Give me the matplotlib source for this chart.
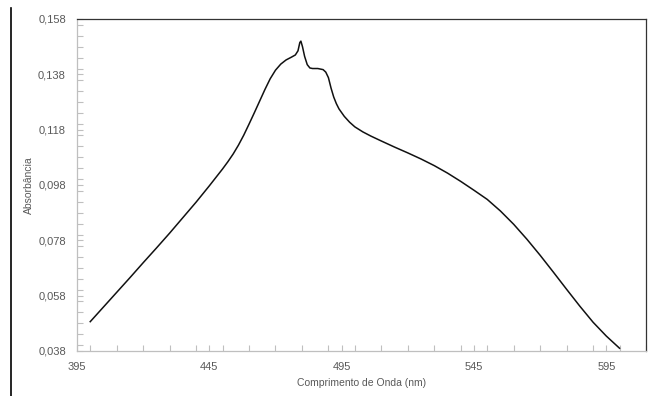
import matplotlib.pyplot as plt
from matplotlib.ticker import MultipleLocator, FuncFormatter
from matplotlib.lines import Line2D

plt.rcParams['font.family'] = ['Liberation Sans Narrow', 'Liberation Sans', 'DejaVu Sans']

# espectro de absorcao
comprimento = [400, 405, 410, 415, 420, 425, 430, 435, 440, 445, 450, 452, 454,
               456, 458, 460, 462, 464, 466, 468, 470, 472, 474, 476, 477.5,
               478.5, 479.2, 479.6, 480.2, 481, 482, 483, 484, 486, 488, 489,
               490, 491, 492, 493, 494, 496, 498, 500, 503, 506, 510, 515, 520,
               525, 530, 535, 540, 545, 550, 555, 560, 565, 570, 575, 580, 585,
               590, 595, 600]
absorbancia = [0.0486, 0.0539, 0.0592, 0.0645, 0.0699, 0.0752, 0.0806, 0.0862,
               0.0918, 0.0977, 0.1038, 0.1064, 0.1092, 0.1124, 0.1160, 0.1200,
               0.1241, 0.1283, 0.1325, 0.1364, 0.1395, 0.1417, 0.1432, 0.1442,
               0.1450, 0.1465, 0.1495, 0.1500, 0.1480, 0.1445, 0.1415, 0.1403,
               0.1401, 0.1401, 0.1397, 0.1388, 0.1368, 0.1330, 0.1298, 0.1274,
               0.1255, 0.1228, 0.1207, 0.1190, 0.1172, 0.1157, 0.1139, 0.1117,
               0.1096, 0.1074, 0.1050, 0.1023, 0.0993, 0.0961, 0.0928, 0.0886,
               0.0838, 0.0784, 0.0726, 0.0665, 0.0603, 0.0542, 0.0484, 0.0434,
               0.0390]

fig = plt.figure(figsize=(6.55, 3.96), dpi=100)
ax = fig.add_axes([77 / 655, 1 - 351 / 396, (646 - 77) / 655, (351 - 19) / 396])

ax.plot(comprimento, absorbancia, color='#111111', linewidth=1.1,
        solid_joinstyle='round')

ax.set_xlim(395, 610)
ax.set_ylim(0.038, 0.158)
ax.xaxis.set_minor_locator(MultipleLocator(10))
ax.yaxis.set_minor_locator(MultipleLocator(0.004))
ax.set_xticks([395, 445, 495, 545, 595])
ax.set_yticks([0.038, 0.058, 0.078, 0.098, 0.118, 0.138, 0.158])
ax.yaxis.set_major_formatter(FuncFormatter(lambda v, p: f'{v:.3f}'.replace('.', ',')))

cinza = '#595959'
ax.tick_params(which='both', direction='in', color='#bfbfbf', length=4, width=0.8,
               labelsize=8, labelcolor=cinza)
ax.tick_params(axis='x', which='major', pad=8)
ax.tick_params(axis='y', which='major', pad=8)

for lado in ['left', 'bottom']:
    ax.spines[lado].set_color('#bfbfbf')
    ax.spines[lado].set_linewidth(0.9)
for lado in ['top', 'right']:
    ax.spines[lado].set_color('#333333')
    ax.spines[lado].set_linewidth(0.9)

ax.set_xlabel('Comprimento de Onda (nm)', fontsize=7.5, color=cinza, labelpad=4)
ax.set_ylabel('Absorbância', fontsize=7.5, color=cinza, labelpad=3)

# linha vertical a esquerda da figura
fig.add_artist(Line2D([11 / 655, 11 / 655], [0, 1 - 8 / 396], color='black', linewidth=1.2))

fig.savefig('out.png', dpi=100)
